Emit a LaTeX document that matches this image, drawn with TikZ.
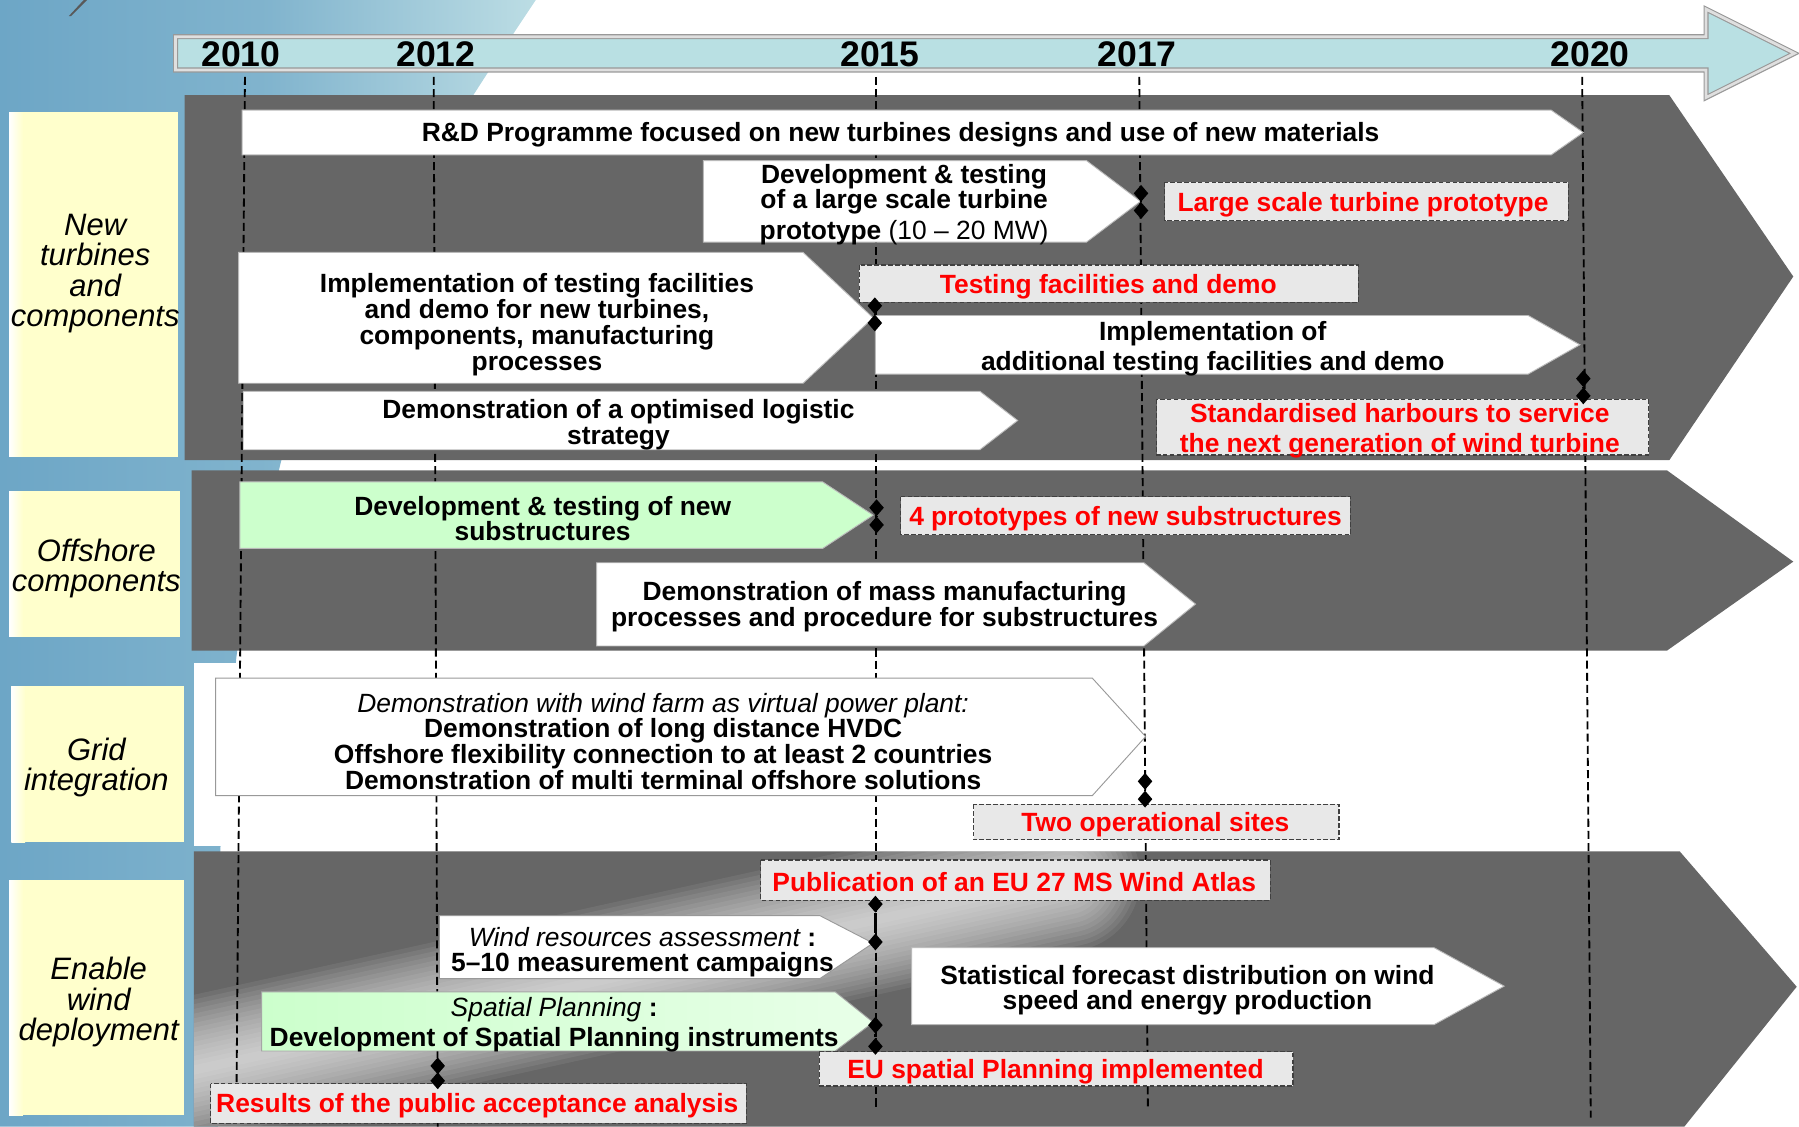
\documentclass[tikz,border=0pt]{standalone}
\usepackage{fontspec}
\setmainfont{Liberation Sans}
\usepackage{xcolor}
\usepackage{tikz}
\usetikzlibrary{shapes.geometric}
\definecolor{bandgray}{HTML}{666666}
\definecolor{bgblue}{HTML}{6DA6C6}
\definecolor{bglight}{HTML}{BCDDE4}
\definecolor{tlcyan}{HTML}{B9E0E3}
\definecolor{labelyellow}{HTML}{FFFFCC}
\definecolor{boxgreen}{HTML}{CCFFCC}
\definecolor{goalgray}{HTML}{E8E8E8}

\begin{document}
\begin{tikzpicture}[x=0.5pt, y=-0.5pt]
    \tikzset{
      band/.style={fill=bandgray},
      taskbox/.style={fill=white, draw=gray!55, line width=0.4pt},
      greenbox/.style={fill=boxgreen, draw=gray!55, line width=0.4pt},
      goalbox/.style={fill=goalgray, draw=black!75, dash pattern=on 2pt off 1pt, line width=0.5pt},
      task/.style={font=\fontsize{11.5}{11.2}\selectfont\bfseries, align=center, inner sep=0pt, yshift=-1pt},
      goal/.style={task, text=red},
      rowlabel/.style={font=\fontsize{13.5}{13.3}\selectfont\itshape, align=center, inner sep=0pt, yshift=-1.2pt},
      year/.style={font=\fontsize{15.5}{15.5}\selectfont\bfseries, inner sep=0pt},
      yearline/.style={line width=0.8pt, dash pattern=on 3.5pt off 1.8pt},
      mile/.style={diamond, fill=black, inner sep=0pt, minimum width=6.5pt, minimum height=7.5pt},
      mileline/.style={line width=1pt}
    }
    \useasboundingbox (0,0) rectangle (1568,982);

    \shade[left color=bgblue, right color=bglight, middle color=bgblue!75!bglight]
      (0,0) -- (467,0) .. controls (400,100) and (270,300) .. (244,406)
      .. controls (225,490) and (210,540) .. (206,573) -- (192,740) -- (190,982) -- (0,982) -- cycle;
    \fill[black!65] (60,14) -- (73,0) -- (76,0) -- (62,14) -- cycle;

    \draw[fill=tlcyan, draw=gray!80, double=gray!25, double distance=1.2pt, line width=0.5pt]
      (153,32) -- (1487,32) -- (1487,8) -- (1564,46.5) -- (1487,85) -- (1487,61) -- (153,61) -- cycle;

    \fill[band] (161,83) -- (1455,83) -- (1563,241) -- (1455,401) -- (161,401) -- cycle;
    \fill[band] (167,410) -- (1453,410) -- (1563,489.5) -- (1453,567) -- (167,567) -- cycle;
    \fill[white] (169,578) rectangle (1470,737);
    \fill[band] (169,742) -- (1464,742) -- (1566,860) -- (1468,982) -- (169,982) -- cycle;
    \begin{scope}
      \clip (169,742) -- (1464,742) -- (1566,860) -- (1468,982) -- (169,982) -- cycle;
      \coordinate (glareA) at (90,950);
      \coordinate (glareB) at (930,765);
      \foreach \w in {64,60,...,4}
        \draw[white, opacity=0.07, line width=\w pt, line cap=round] (glareA) -- (glareB);
    \end{scope}

    \fill[labelyellow] (8,98) rectangle (155,398);
    \shade[left color=white, right color=labelyellow] (8,98) rectangle (20,398);
    \fill[labelyellow] (8,428) rectangle (157,555);
    \shade[left color=white, right color=labelyellow] (8,428) rectangle (20,555);
    \fill[labelyellow] (10,598) rectangle (160,734);
    \shade[left color=white, right color=labelyellow] (10,598) rectangle (22,734);
    \fill[labelyellow] (8,767) rectangle (160,972);
    \shade[left color=white, right color=labelyellow] (8,767) rectangle (20,972);
    \node[rowlabel] (lblturb) at (83,236) {New\\turbines\\and\\components};
    \node[rowlabel] (lbloff) at (84,493) {Offshore\\components};
    \node[rowlabel] (lblgrid) at (84,666.5) {Grid\\integration};
    \node[rowlabel] (lblwind) at (86,871) {Enable\\wind\\deployment};

    \foreach \yr/\xl/\xt/\xb/\yb in {2010/210/213.5/206/968, 2012/380/378/381.5/982,
        2015/767/763.5/763.5/966, 2017/991/993/1000.5/966, 2020/1386/1379/1386.5/974}{
      \node[year] (yr\yr) at (\xl,47) {\yr};
      \coordinate (top\yr) at (\xt,67);
      \coordinate (bot\yr) at (\xb,\yb);
      \draw[yearline] (top\yr) -- (bot\yr);
    }

    \draw[taskbox] (211,96) -- (1352,96) -- (1380,115.5) -- (1352,135) -- (211,135) -- cycle;
    \node[task] (rdprog) at (785,115.5) {R\&D Programme focused on new turbines designs and use of new materials};
    \draw[taskbox] (613,140) -- (947,140) -- (994,175.5) -- (947,211) -- (613,211) -- cycle;
    \node[task] (bigturb) at (788,176) {Development \& testing\\of a large scale turbine\\[2pt]prototype {\mdseries(10 \textendash{} 20 MW)}};
    \draw[taskbox] (208,220) -- (700,220) -- (761,277) -- (700,334) -- (208,334) -- cycle;
    \node[task] (testfac) at (468,281) {Implementation of testing facilities\\and demo for new turbines,\\components, manufacturing\\processes};
    \draw[taskbox] (763,275) -- (1332,275) -- (1377,300.5) -- (1332,326) -- (763,326) -- cycle;
    \node[task] (addfac) at (1057,302) {Implementation of\\[1.6pt]additional testing facilities and demo};
    \draw[taskbox] (212,341) -- (854,341) -- (887,366.5) -- (854,392) -- (212,392) -- cycle;
    \node[task] (logist) at (539,368) {Demonstration of a optimised logistic\\strategy};

    \draw[greenbox] (209,420) -- (717,420) -- (761,449) -- (717,478) -- (209,478) -- cycle;
    \node[task] (newsub) at (473,450) {Development \& testing of new\\substructures};
    \draw[taskbox] (520,490.5) -- (997,490.5) -- (1042,526.5) -- (997,563) -- (520,563) -- cycle;
    \node[task] (masssub) at (771,527) {Demonstration of mass manufacturing\\processes and procedure for substructures};

    \draw[taskbox, draw=gray!80] (188,591) -- (952,591) -- (998.5,642) -- (952,693.5) -- (188,693.5) -- cycle;
    \node[task] (vpp) at (578,644) {{\mdseries\itshape Demonstration with wind farm as virtual power plant:}\\Demonstration of long distance HVDC\\Offshore flexibility connection to at least 2 countries\\Demonstration of multi terminal offshore solutions};

    \draw[taskbox, draw=gray!80] (383,798) -- (714.5,798) -- (761,822) -- (714.5,853) -- (383,853) -- cycle;
    \node[task] (windres) at (560,828) {{\mdseries\itshape Wind resources assessment} :\\5\textendash 10 measurement campaigns};
    \shadedraw[left color=boxgreen, right color=boxgreen!45!white, draw=gray!70, line width=0.4pt]
      (228,864.5) -- (728,864.5) -- (761,891) -- (728,916) -- (228,916) -- cycle;
    \node[task] (spatial) at (483,891) {{\mdseries\itshape Spatial Planning} :\\[1.6pt]Development of Spatial Planning instruments};
    \draw[taskbox] (794.5,826) -- (1250,826) -- (1311,859.5) -- (1250,893) -- (794.5,893) -- cycle;
    \node[task] (forecast) at (1035,861) {Statistical forecast distribution on wind\\speed and energy production};

    \draw[goalbox] (1015,159) rectangle (1367,192.5);
    \node[goal] (gproto) at (1188,176.5) {Large scale turbine prototype};
    \draw[goalbox] (749,231) rectangle (1184,263.5);
    \node[goal] (gtest) at (966,247.5) {Testing facilities and demo};
    \draw[goalbox] (1008,348) rectangle (1437,396.5);
    \node[goal] (gharb) at (1220,373.5) {Standardised harbours to service\\[2pt]the next generation of wind turbine};
    \draw[goalbox] (785,433) rectangle (1177,466);
    \node[goal] (gsub) at (981,450) {4 prototypes of new substructures};
    \draw[goalbox] (848.5,701) rectangle (1167,732);
    \node[goal] (gsites) at (1007,716.5) {Two operational sites};
    \draw[goalbox] (663,749.5) rectangle (1107,784.5);
    \node[goal] (gatlas) at (884,767) {Publication of an EU 27 MS Wind Atlas};
    \draw[goalbox] (714,916.5) rectangle (1127,946.5);
    \node[goal] (gplan) at (920,932) {EU spatial Planning implemented};
    \draw[goalbox] (183.5,944.5) rectangle (650.5,979);
    \node[goal] (gpublic) at (416,962) {Results of the public acceptance analysis};

    \node[mile] (ms1a) at (994.5,168.5) {};
    \node[mile] (ms1b) at (994.5,183.5) {};
    \node[mile] (ms2a) at (762.5,266.5) {};
    \node[mile] (ms2b) at (762.5,281.5) {};
    \node[mile] (ms3a) at (1380,330) {};
    \node[mile] (ms3b) at (1380,345) {};
    \node[mile] (ms4a) at (764,442.5) {};
    \node[mile] (ms4b) at (764,457.5) {};
    \node[mile] (ms5a) at (998,681) {};
    \node[mile] (ms5b) at (998,696.5) {};
    \node[mile] (ms6a) at (763,788) {};
    \node[mile] (ms6b) at (763,821) {};
    \node[mile] (ms7a) at (763,893.5) {};
    \node[mile] (ms7b) at (763,912) {};
    \node[mile] (ms8a) at (381.5,929) {};
    \node[mile] (ms8b) at (381.5,942) {};

    \draw[mileline] (ms1a) -- (ms1b);
    \draw[mileline] (ms2a) -- (ms2b);
    \draw[mileline] (ms3a) -- (ms3b);
    \draw[mileline] (ms4a) -- (ms4b);
    \draw[mileline] (ms5a) -- (ms5b);
    \draw[mileline] (ms6a) -- (ms6b);
    \draw[mileline] (ms7a) -- (ms7b);
    \draw[mileline] (ms8a) -- (ms8b);
\end{tikzpicture}
\end{document}
